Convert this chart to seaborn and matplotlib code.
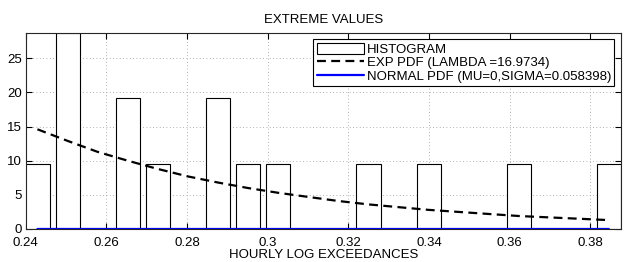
"""
Extreme values histogram with fitted pdfs
"""

import matplotlib
matplotlib.use("Agg")
import matplotlib.pyplot as plt
import pandas as pd
import seaborn as sns

# bin centres of the histogram (20 bins)
bin_centers = [0.2429, 0.2504, 0.2578, 0.2653, 0.2727, 0.2802, 0.2877, 0.2951,
               0.3026, 0.3100, 0.3175, 0.3250, 0.3324, 0.3399, 0.3473, 0.3548,
               0.3623, 0.3697, 0.3772, 0.3846]
hist_density = [9.57, 28.7, 0, 19.14, 9.57, 0, 19.14, 9.57, 9.57, 0,
                0, 9.57, 0, 9.57, 0, 0, 9.57, 0, 0, 9.57]
exp_pdf = [14.6, 12.9, 11.3, 10.0, 8.8, 7.7, 6.8, 6.0, 5.3, 4.7,
           4.1, 3.6, 3.2, 2.8, 2.5, 2.2, 1.9, 1.7, 1.5, 1.3]
normal_pdf = [0.0013, 0.0008, 0.0005, 0.0003, 0.0002, 0.0001, 0.0001, 0.0, 0.0, 0.0,
              0.0, 0.0, 0.0, 0.0, 0.0, 0.0, 0.0, 0.0, 0.0, 0.0]

df = pd.DataFrame({"x": bin_centers, "hist": hist_density,
                   "exp": exp_pdf, "normal": normal_pdf})

sns.set_style("ticks")
plt.rcParams["font.family"] = ["Liberation Sans", "DejaVu Sans"]
plt.rcParams["text.color"] = "black"
plt.rcParams["axes.labelcolor"] = "black"
plt.rcParams["xtick.color"] = "black"
plt.rcParams["ytick.color"] = "black"

fig = plt.figure(figsize=(6.29, 2.62), dpi=100)
ax = fig.add_axes([0.0409, 0.126, 0.9464, 0.749])

step = bin_centers[1] - bin_centers[0]
bars = df[df["hist"] > 0]
h_bar = ax.bar(bars["x"], bars["hist"], width=0.8 * step, color="white",
               edgecolor="black", linewidth=0.8, label="HISTOGRAM", zorder=2)

sns.lineplot(data=df, x="x", y="exp", ax=ax, color="black", linewidth=1.6,
             zorder=3)
h_exp = ax.lines[-1]
h_exp.set_dashes((4, 2.4))
sns.lineplot(data=df, x="x", y="normal", ax=ax, color="#0000ff", linewidth=1.6,
             zorder=3)
h_norm = ax.lines[-1]

ax.set_xlim(0.24, 0.3876)
ax.set_ylim(0, 28.74)
ax.set_xticks([0.24, 0.26, 0.28, 0.3, 0.32, 0.34, 0.36, 0.38])
ax.set_xticklabels(["0.24", "0.26", "0.28", "0.3", "0.32", "0.34", "0.36", "0.38"])
ax.set_yticks([0, 5, 10, 15, 20, 25])
ax.tick_params(direction="in", length=4, width=0.8, labelsize=9.5,
               top=True, right=True)
ax.tick_params(axis="x", pad=5.5)
ax.tick_params(axis="y", pad=2.5)
ax.grid(True, linestyle=(0, (1, 3)), color="#999999", linewidth=0.6)
ax.set_axisbelow(True)
for s in ax.spines.values():
    s.set_linewidth(0.8)
    s.set_zorder(5)

ax.set_title("EXTREME VALUES", fontsize=9.5, pad=7)
ax.set_xlabel("HOURLY LOG EXCEEDANCES", fontsize=9.5, labelpad=0.5)
ax.set_ylabel("")

leg = ax.legend([h_bar, h_exp, h_norm],
                ["HISTOGRAM", "EXP PDF (LAMBDA =16.9734)",
                 "NORMAL PDF (MU=0,SIGMA=0.058398)"],
                loc="upper right", fontsize=9.5, frameon=True, fancybox=False,
                edgecolor="black", framealpha=1, handlelength=3.6,
                handleheight=0.9, borderpad=0.25, labelspacing=0.05,
                handletextpad=0.2, borderaxespad=0.5)
leg.get_frame().set_linewidth(0.8)

fig.savefig("out.png", dpi=100)
